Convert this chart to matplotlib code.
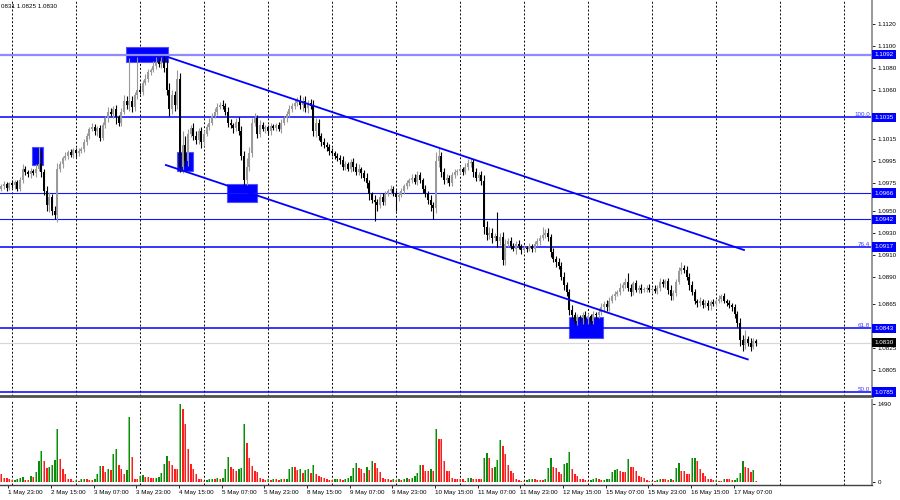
import numpy as np
import matplotlib
matplotlib.use('Agg')
import matplotlib.pyplot as plt
from matplotlib.patches import Rectangle
import matplotlib.transforms as mtransforms

plt.rcParams['font.family'] = ['Liberation Sans', 'DejaVu Sans']

# EURUSD H1, closes in pips (price * 10000)
closes = [10972, 10974, 10971, 10975, 10973, 10976, 10970, 10978, 10988, 10985,
          10983, 10986, 10984, 10988, 10992, 10985, 10968, 10955, 10962, 10950,
          10946, 10988, 10992, 10998, 11000, 11003, 11001, 11005, 11002, 11004,
          11006, 11012, 11018, 11024, 11026, 11022, 11025, 11016, 11028, 11034,
          11040, 11038, 11042, 11035, 11030, 11040, 11050, 11046, 11050, 11044,
          11055, 11060, 11058, 11066, 11070, 11076, 11078, 11082, 11085, 11083,
          11086, 11080, 11060, 11042, 11055, 11046, 11070, 10990, 11010, 10995,
          11020, 11025, 11018, 11014, 11022, 11012, 11020, 11026, 11030, 11036,
          11040, 11044, 11046, 11045, 11040, 11030, 11028, 11025, 11031, 11022,
          11000, 10978, 10990, 11002, 11030, 11034, 11020, 11028, 11024, 11026,
          11022, 11027, 11025, 11028, 11024, 11030, 11034, 11038, 11042, 11045,
          11048, 11050, 11046, 11050, 11043, 11048, 11045, 11022, 11030, 11018,
          11012, 11010, 11008, 11004, 11002, 11000, 10998, 10996, 10990, 10992,
          10988, 10994, 10990, 10985, 10988, 10984, 10980, 10975, 10965, 10960,
          10958, 10955, 10962, 10958, 10965, 10968, 10970, 10966, 10962, 10964,
          10968, 10972, 10975, 10978, 10980, 10976, 10982, 10978, 10970, 10965,
          10960, 10955, 10952, 10995, 11000, 10985, 10978, 10980, 10975, 10982,
          10985, 10986, 10988, 10985, 10990, 10993, 10994, 10985, 10980, 10982,
          10977, 10935, 10928, 10930, 10925, 10927, 10922, 10926, 10905, 10920,
          10922, 10918, 10915, 10920, 10918, 10914, 10916, 10915, 10918, 10915,
          10920, 10922, 10925, 10928, 10930, 10926, 10912, 10906, 10903, 10900,
          10890, 10882, 10876, 10860, 10855, 10850, 10853, 10852, 10855, 10851,
          10854, 10850, 10856, 10855, 10858, 10862, 10865, 10862, 10868, 10872,
          10874, 10876, 10880, 10882, 10885, 10880, 10876, 10884, 10878, 10880,
          10878, 10879, 10880, 10878, 10879, 10877, 10880, 10885, 10883, 10886,
          10878, 10872, 10875, 10885, 10895, 10898, 10896, 10890, 10882, 10876,
          10868, 10866, 10868, 10864, 10866, 10863, 10867, 10865, 10868, 10870,
          10872, 10868, 10866, 10864, 10862, 10856, 10848, 10832, 10828, 10833,
          10830, 10826, 10831, 10830]
first_open = 10970

# wick lengths beyond the body, in pips
wick_up = [2, 3, 2, 1, 3, 2, 2, 3, 4, 3,
           2, 3, 2, 4, 16, 14, 3, 4, 5, 3,
           4, 5, 3, 2, 3, 2, 3, 2, 2, 3,
           2, 3, 3, 2, 4, 3, 2, 3, 3, 2,
           4, 3, 3, 4, 2, 3, 5, 4, 39, 4,
           3, 30, 4, 3, 4, 3, 2, 4, 5, 3,
           4, 5, 8, 6, 5, 4, 8, 5, 12, 8,
           4, 3, 5, 4, 3, 4, 3, 3, 4, 3,
           3, 4, 3, 5, 3, 4, 3, 2, 3, 4,
           5, 4, 8, 6, 4, 5, 3, 4, 3, 2,
           2, 3, 2, 2, 3, 3, 2, 3, 4, 3,
           4, 3, 5, 3, 4, 3, 4, 6, 4, 3,
           3, 4, 2, 3, 3, 2, 2, 3, 4, 3,
           2, 3, 4, 3, 4, 2, 3, 4, 3, 2,
           4, 3, 3, 4, 3, 2, 3, 2, 3, 3,
           3, 2, 3, 2, 3, 3, 4, 3, 2, 3,
           3, 4, 3, 8, 8, 3, 4, 3, 2, 3,
           3, 2, 3, 2, 3, 4, 4, 3, 4, 3,
           4, 5, 6, 5, 4, 3, 22, 4, 5, 4,
           3, 4, 3, 2, 3, 2, 3, 2, 3, 2,
           2, 3, 3, 7, 3, 4, 3, 4, 3, 4,
           3, 4, 3, 3, 4, 3, 3, 2, 3, 4,
           3, 2, 3, 2, 3, 4, 3, 4, 3, 2,
           3, 2, 4, 3, 4, 8, 3, 2, 3, 2,
           3, 2, 2, 3, 2, 3, 2, 4, 3, 2,
           3, 4, 3, 3, 4, 5, 3, 4, 3, 4,
           3, 2, 3, 2, 3, 3, 2, 3, 2, 3,
           2, 3, 2, 3, 2, 3, 3, 4, 5, 8,
           3, 4, 3, 2]
wick_dn = [2, 2, 3, 2, 2, 3, 2, 2, 3, 3,
           2, 3, 2, 3, 2, 4, 4, 5, 6, 4,
           4, 6, 3, 3, 2, 3, 2, 3, 3, 2,
           2, 3, 2, 3, 2, 3, 4, 3, 2, 3,
           3, 2, 4, 6, 3, 3, 2, 4, 5, 4,
           3, 3, 2, 3, 2, 3, 3, 2, 3, 2,
           3, 4, 5, 6, 4, 5, 4, 5, 6, 4,
           4, 3, 4, 3, 3, 5, 3, 2, 3, 2,
           2, 3, 2, 3, 3, 4, 3, 4, 3, 3,
           4, 5, 5, 4, 3, 3, 4, 3, 2, 3,
           2, 3, 2, 3, 2, 3, 2, 3, 3, 2,
           3, 3, 4, 5, 3, 4, 3, 4, 5, 4,
           3, 3, 4, 3, 2, 3, 3, 4, 3, 3,
           2, 3, 4, 3, 3, 4, 3, 4, 5, 3,
           17, 5, 3, 3, 3, 2, 3, 3, 12, 3,
           2, 3, 2, 3, 3, 2, 3, 3, 4, 3,
           4, 5, 10, 4, 5, 4, 4, 3, 3, 3,
           2, 3, 3, 3, 2, 3, 3, 4, 3, 3,
           4, 6, 5, 4, 4, 3, 5, 3, 4, 4,
           3, 3, 2, 4, 3, 3, 2, 3, 2, 3,
           3, 2, 3, 2, 3, 4, 4, 3, 4, 3,
           3, 4, 4, 5, 4, 3, 4, 3, 5, 3,
           4, 3, 3, 4, 3, 3, 4, 3, 3, 2,
           3, 2, 3, 3, 2, 3, 4, 3, 2, 3,
           3, 2, 3, 2, 3, 2, 3, 3, 2, 3,
           4, 3, 3, 3, 2, 3, 3, 3, 4, 3,
           3, 4, 3, 3, 2, 3, 3, 2, 3, 2,
           3, 2, 3, 3, 3, 4, 4, 5, 6, 4,
           3, 4, 2, 3]

volumes = [141, 77, 64, 45, 26, 32, 58, 77, 96, 32,
           32, 109, 90, 186, 390, 582, 390, 262, 288, 314,
           410, 1005, 429, 237, 154, 58, 58, 13, 26, 10,
           45, 58, 45, 32, 32, 58, 154, 301, 294, 186,
           250, 224, 531, 634, 314, 237, 141, 218, 1248, 480,
           58, 45, 109, 122, 96, 83, 70, 64, 77, 90,
           160, 333, 493, 390, 320, 250, 250, 1490, 1389, 1101,
           621, 333, 250, 141, 58, 45, 13, 32, 45, 58,
           51, 70, 58, 70, 237, 480, 288, 237, 205, 250,
           262, 1101, 736, 461, 301, 205, 186, 77, 45, 26,
           45, 38, 45, 45, 38, 45, 45, 58, 237, 288,
           288, 224, 250, 173, 224, 250, 173, 314, 141, 109,
           96, 70, 45, 32, 26, 45, 58, 45, 32, 45,
           70, 109, 269, 365, 269, 237, 160, 288, 224, 397,
           365, 262, 186, 77, 58, 45, 32, 45, 32, 45,
           32, 58, 70, 45, 70, 109, 173, 326, 314, 205,
           205, 237, 205, 1005, 826, 826, 397, 205, 205, 77,
           58, 45, 45, 45, 13, 64, 77, 45, 45, 45,
           45, 448, 544, 448, 256, 288, 416, 800, 685, 525,
           320, 205, 160, 58, 32, 13, 13, 26, 45, 58,
           58, 32, 32, 32, 45, 269, 461, 288, 269, 186,
           141, 333, 365, 570, 250, 154, 109, 58, 45, 26,
           13, 32, 45, 64, 45, 26, 32, 45, 58, 186,
           224, 250, 205, 186, 186, 442, 288, 282, 205, 109,
           96, 64, 32, 13, 10, 10, 26, 58, 58, 45,
           32, 45, 32, 269, 352, 205, 205, 154, 141, 454,
           461, 397, 250, 160, 109, 58, 45, 26, 32, 13,
           10, 58, 58, 58, 26, 32, 70, 173, 397, 288,
           269, 186, 224, 20]

time_labels = ['1 May 23:00', '2 May 15:00', '3 May 07:00', '3 May 23:00', '4 May 15:00',
               '5 May 07:00', '5 May 23:00', '8 May 15:00', '9 May 07:00', '9 May 23:00',
               '10 May 15:00', '11 May 07:00', '11 May 23:00', '12 May 15:00', '15 May 07:00',
               '15 May 23:00', '16 May 15:00', '17 May 07:00']

price_ticks = [1.1120, 1.1100, 1.1080, 1.1060, 1.1015, 1.0995, 1.0975, 1.0950,
               1.0930, 1.0910, 1.0890, 1.0865, 1.0825, 1.0805]
levels = [1.1092, 1.1035, 1.0966, 1.0942, 1.0917, 1.0843, 1.0785]
fib_prices = [1.1035, 1.0917, 1.0843, 1.0785]
fib_names = ['100.0', '76.4', '61.8', '50.0']
last_price = 1.0830

# channel lines: (bar, price) end points
upper_line = ([62.5, 278.5], [1.10897, 1.09142])
lower_line = ([61.7, 279.9], [1.09915, 1.08147])
# blue marker boxes: bar from, bar to, price low, price high
boxes = [(46.7, 62.5, 1.10852, 1.10988),
         (11.6, 15.7, 1.09915, 1.10076),
         (65.8, 71.8, 1.09860, 1.10030),
         (84.7, 95.8, 1.09580, 1.09740),
         (212.7, 225.7, 1.08340, 1.08530)]

fig = plt.figure(figsize=(9, 5), dpi=100)
ax = fig.add_axes([0, 0.208, 0.9689, 0.792])
axv = fig.add_axes([0, 0.03, 0.9689, 0.17], sharex=ax)

c = np.array(closes) / 10000.0
o = np.r_[first_open, closes[:-1]] / 10000.0
top = np.maximum(o, c)
bot = np.minimum(o, c)
hi = top + np.array(wick_up) / 10000.0
lo = bot - np.array(wick_dn) / 10000.0
x = np.arange(len(c))
bull = c >= o
col = np.where(bull, '#9a9a9a', '#000000')

# grid
for g in np.arange(3.9, 330, 24):
    for a in (ax, axv):
        a.axvline(g, color='black', lw=0.7, dashes=(2, 2), zorder=0)

for b0, b1, p0, p1 in boxes:
    ax.add_patch(Rectangle((b0, p0), b1 - b0, p1 - p0, facecolor='#0000ff',
                           edgecolor='#5050ff', lw=0.8, zorder=1))

for lv in levels:
    if lv == 1.1092:
        ax.axhline(lv, color='#8c8cff', lw=1.6, zorder=2)
    elif lv in (1.0966, 1.0942):
        ax.axhline(lv, color='#1515ff', lw=0.8, zorder=2)
    else:
        ax.axhline(lv, color='#0000ff', lw=1.1, zorder=2)
ax.axhline(last_price, color='#d8d8d8', lw=0.9, zorder=1)

ax.plot(*upper_line, color='#0000ff', lw=1.3, zorder=4)
ax.plot(*lower_line, color='#0000ff', lw=1.3, zorder=4)

ax.vlines(x, lo, hi, colors=col, lw=0.8, zorder=3)
ax.bar(x, np.maximum(top - bot, 0.00007), bottom=bot, width=0.72, color=col,
       linewidth=0, zorder=3)

ax.set_xlim(-0.5, 326.5)
ax.set_ylim(1.07814, 1.11416)

trans = mtransforms.blended_transform_factory(ax.transAxes, ax.transData)
for lv in levels:
    ax.text(1.003, lv, '%.4f' % lv, transform=trans, fontsize=4.5, color='white',
            va='center', ha='left', clip_on=False, zorder=6,
            bbox=dict(boxstyle='square,pad=0.35', fc='#0000ff', ec='none'))
ax.text(1.003, last_price, '%.4f' % last_price, transform=trans, fontsize=4.5,
        color='white', va='center', ha='left', clip_on=False, zorder=6,
        bbox=dict(boxstyle='square,pad=0.35', fc='#000000', ec='none'))
for fp, fn in zip(fib_prices, fib_names):
    ax.text(0.998, fp + 0.00003, fn, transform=trans, fontsize=4.5, color='#3a3aff',
            va='bottom', ha='right', zorder=6)

ax.yaxis.tick_right()
ax.set_yticks(price_ticks)
ax.set_yticklabels(['%.4f' % p for p in price_ticks])
ax.tick_params(axis='y', labelsize=4.5, length=2.5, width=0.6, pad=1.5)
ax.tick_params(axis='x', bottom=False, labelbottom=False)
for s in ('left', 'top'):
    ax.spines[s].set_visible(False)
ax.spines['right'].set_color('#909090')
ax.spines['right'].set_linewidth(1.3)
ax.spines['bottom'].set_color('#505050')
ax.spines['bottom'].set_linewidth(2.0)

# volumes: green when rising versus previous bar, lighter left edge
v = np.array(volumes)
rise = np.r_[False, v[1:] > v[:-1]]
vcol = np.where(rise, '#0b8a0b', '#ff1c1c')
vlight = np.where(rise, '#7ccc7c', '#ff8c8c')
xv = np.arange(len(v))
axv.bar(xv, v, width=0.82, color=vcol, linewidth=0, zorder=2)
axv.bar(xv - 0.25, v, width=0.3, color=vlight, linewidth=0, zorder=2)
axv.set_ylim(-63, 1567)
axv.yaxis.tick_right()
axv.set_yticks([0, 1490])
axv.set_yticklabels(['0', '1490'])
axv.tick_params(axis='y', labelsize=4.5, length=2.5, width=0.6, pad=1.5)
axv.set_xticks(np.arange(len(time_labels)) * 16 + 2.6)
axv.set_xticklabels(time_labels, ha='left')
axv.tick_params(axis='x', labelsize=4.5, length=2, width=0.6, pad=1.5)
for s in ('left', 'top'):
    axv.spines[s].set_visible(False)
axv.spines['right'].set_color('#909090')
axv.spines['right'].set_linewidth(1.3)
axv.spines['bottom'].set_color('#404040')
axv.spines['bottom'].set_linewidth(1.0)

fig.text(0.001, 0.992, '0831 1.0825 1.0830', fontsize=4.5, va='top', ha='left')

fig.savefig('out.png', dpi=100)
